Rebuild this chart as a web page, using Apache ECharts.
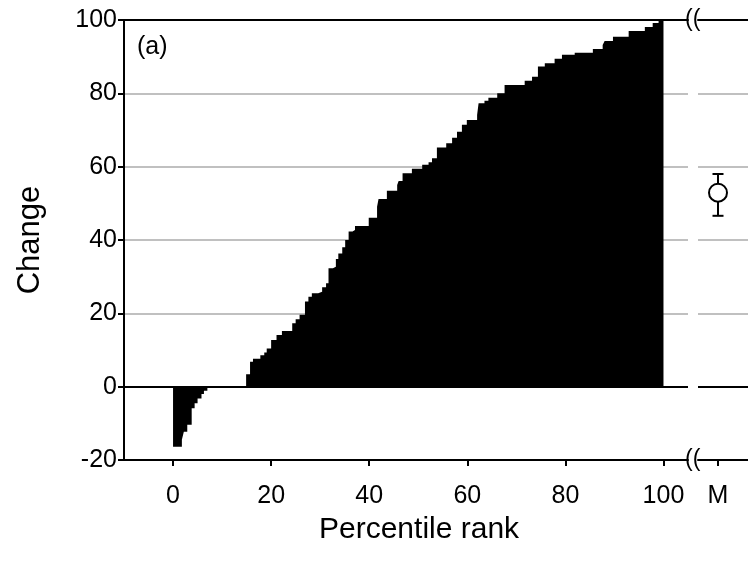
<!DOCTYPE html>
<html>
<head>
<meta charset="utf-8">
<script src="https://cdn.jsdelivr.net/npm/echarts@6/dist/echarts.min.js"></script>
<style>html,body{margin:0;padding:0;background:#fff;}#c{width:748px;height:568px;}</style>
</head>
<body>
<div id="c"></div>
<script>
// Step starts (percentile rank) and the change value holding from that start to the next
const rankStart = [0, 1.8, 2.2, 2.9, 3.8, 4.4, 5.0, 5.8, 6.3, 7.0,
  14.9, 15.7, 16.3, 17.8, 18.6, 19.1, 20.0, 21.1, 22.2, 24.3,
  25.0, 25.8, 26.9, 27.6, 28.3, 29.6, 30.4, 31.2, 31.7, 32.6,
  33.2, 33.7, 34.5, 35.1, 35.8, 36.6, 37.1, 39.9, 41.6, 41.9,
  43.6, 45.7, 46.0, 46.8, 48.7, 50.8, 52.1, 52.8, 53.8, 55.7,
  56.9, 57.9, 58.9, 59.9, 62.0, 62.3, 63.5, 64.3, 66.1, 67.6,
  71.7, 73.2, 74.4, 75.8, 77.8, 79.3, 81.9, 85.6, 87.6, 88.0,
  89.7, 92.9, 96.2, 97.8, 99.0];
const change = [-16.4, -14.5, -12.3, -10.4, -5.9, -4.5, -3.2, -2.0, -1.1, 0,
  3.4, 6.8, 7.6, 8.6, 9.3, 10.4, 12.7, 14.1, 15.2, 17.3,
  18.4, 19.6, 23.2, 24.5, 25.5, 25.9, 27.1, 28.2, 32.3, 32.7,
  34.8, 36.3, 38.0, 40.0, 42.3, 42.7, 43.8, 46.1, 49.1, 51.2,
  53.4, 55.0, 56.1, 58.2, 59.4, 60.5, 61.2, 62.3, 65.2, 66.4,
  67.9, 69.5, 71.4, 72.7, 74.1, 77.3, 78.0, 78.8, 80.0, 82.3,
  83.4, 84.5, 87.3, 88.2, 89.4, 90.5, 91.1, 92.1, 93.2, 94.3,
  95.4, 97.0, 98.1, 99.2, 99.9];
const rankEnd = 100;
const xTicks = [0, 20, 40, 60, 80, 100];
const meanLabel = 'M';
const meanPos = 1;
const meanValue = [52.9];
const meanLow = [46.6];
const meanHigh = [58.0];

const FONT = "'Liberation Sans', Arial, sans-serif";
const black = '#000';
const gridGray = '#c0c0c0';
const TICK_FS = 25;

const stepData = rankStart.map((r, i) => [r, change[i]]);
stepData.push([rankEnd, change[change.length - 1]]);

const chart = echarts.init(document.getElementById('c'), null, {renderer: 'canvas'});

const axisLineStyle = {show: true, onZero: false, lineStyle: {color: black, width: 2}};

const option = {
  animation: false,
  backgroundColor: '#fff',
  grid: [
    {left: 124, right: 60, top: 20, bottom: 108},
    {left: 698, right: 0, top: 20, bottom: 108}
  ],
  xAxis: [
    {gridIndex: 0, type: 'value', min: -10, max: 105, position: 'bottom',
      axisLine: axisLineStyle,
      axisTick: {show: true, customValues: xTicks, length: 6, lineStyle: {color: black, width: 2}},
      axisLabel: {customValues: xTicks, fontSize: TICK_FS, color: black, margin: 24, fontFamily: FONT},
      splitLine: {show: false}},
    {gridIndex: 0, type: 'value', min: -10, max: 105, position: 'top',
      axisLine: axisLineStyle, axisTick: {show: false}, axisLabel: {show: false}, splitLine: {show: false}},
    {gridIndex: 1, type: 'value', min: 0, max: 2.5, position: 'bottom',
      axisLine: axisLineStyle,
      axisTick: {show: true, customValues: [meanPos], length: 6, lineStyle: {color: black, width: 2}},
      axisLabel: {customValues: [meanPos], formatter: () => meanLabel, fontSize: TICK_FS, color: black, margin: 24, fontFamily: FONT},
      splitLine: {show: false}},
    {gridIndex: 1, type: 'value', min: 0, max: 2.5, position: 'top',
      axisLine: axisLineStyle, axisTick: {show: false}, axisLabel: {show: false}, splitLine: {show: false}}
  ],
  yAxis: [
    {gridIndex: 0, type: 'value', min: -20, max: 100, interval: 20,
      axisLine: axisLineStyle,
      axisTick: {show: true, length: 6, lineStyle: {color: black, width: 2}},
      axisLabel: {fontSize: TICK_FS, color: black, margin: 7, fontFamily: FONT},
      splitLine: {show: true, lineStyle: {color: gridGray, width: 2}},
      name: 'Change', nameLocation: 'middle', nameGap: 78,
      nameTextStyle: {fontSize: 31, color: black, fontFamily: FONT}},
    {gridIndex: 1, type: 'value', min: -20, max: 100, interval: 20,
      axisLine: {show: false}, axisTick: {show: false}, axisLabel: {show: false},
      splitLine: {show: true, lineStyle: {color: gridGray, width: 2}}}
  ],
  graphic: [
    {type: 'text', left: 137, top: 35, style: {text: '(a)', font: '25px ' + FONT, fill: black}},
    {type: 'text', left: 319, top: 515, style: {text: 'Percentile rank', font: '30px ' + FONT, fill: black}},
    {type: 'text', left: 685, top: 8, style: {text: '((', font: '23px ' + FONT, fill: black}},
    {type: 'text', left: 685, top: 448, style: {text: '((', font: '23px ' + FONT, fill: black}}
  ],
  series: [
    {type: 'line', xAxisIndex: 0, yAxisIndex: 0, data: stepData, step: 'end',
      symbol: 'none', lineStyle: {width: 0, color: black},
      areaStyle: {color: black, opacity: 1},
      markLine: {silent: true, symbol: 'none', label: {show: false},
        lineStyle: {color: black, width: 2, type: 'solid'}, data: [{yAxis: 0}]},
      z: 3},
    {type: 'line', xAxisIndex: 2, yAxisIndex: 1, data: [],
      markLine: {silent: true, symbol: 'none', label: {show: false},
        lineStyle: {color: black, width: 2, type: 'solid'}, data: [{yAxis: 0}]}},
    {type: 'custom', xAxisIndex: 2, yAxisIndex: 1,
      data: meanValue.map((v, i) => [meanPos, v, meanLow[i], meanHigh[i]]),
      renderItem: function (params, api) {
        const top = api.coord([api.value(0), api.value(3)]);
        const bot = api.coord([api.value(0), api.value(2)]);
        const cap = 5.5;
        const st = {stroke: black, lineWidth: 2};
        return {type: 'group', children: [
          {type: 'line', shape: {x1: top[0], y1: top[1], x2: bot[0], y2: bot[1]}, style: st},
          {type: 'line', shape: {x1: top[0] - cap, y1: top[1], x2: top[0] + cap, y2: top[1]}, style: st},
          {type: 'line', shape: {x1: bot[0] - cap, y1: bot[1], x2: bot[0] + cap, y2: bot[1]}, style: st}
        ]};
      }, z: 4},
    {type: 'scatter', xAxisIndex: 2, yAxisIndex: 1,
      data: meanValue.map(v => [meanPos, v]), symbol: 'circle', symbolSize: 18,
      itemStyle: {color: '#fff', borderColor: black, borderWidth: 2, opacity: 1}, z: 5}
  ]
};
chart.setOption(option);
</script>
</body>
</html>
